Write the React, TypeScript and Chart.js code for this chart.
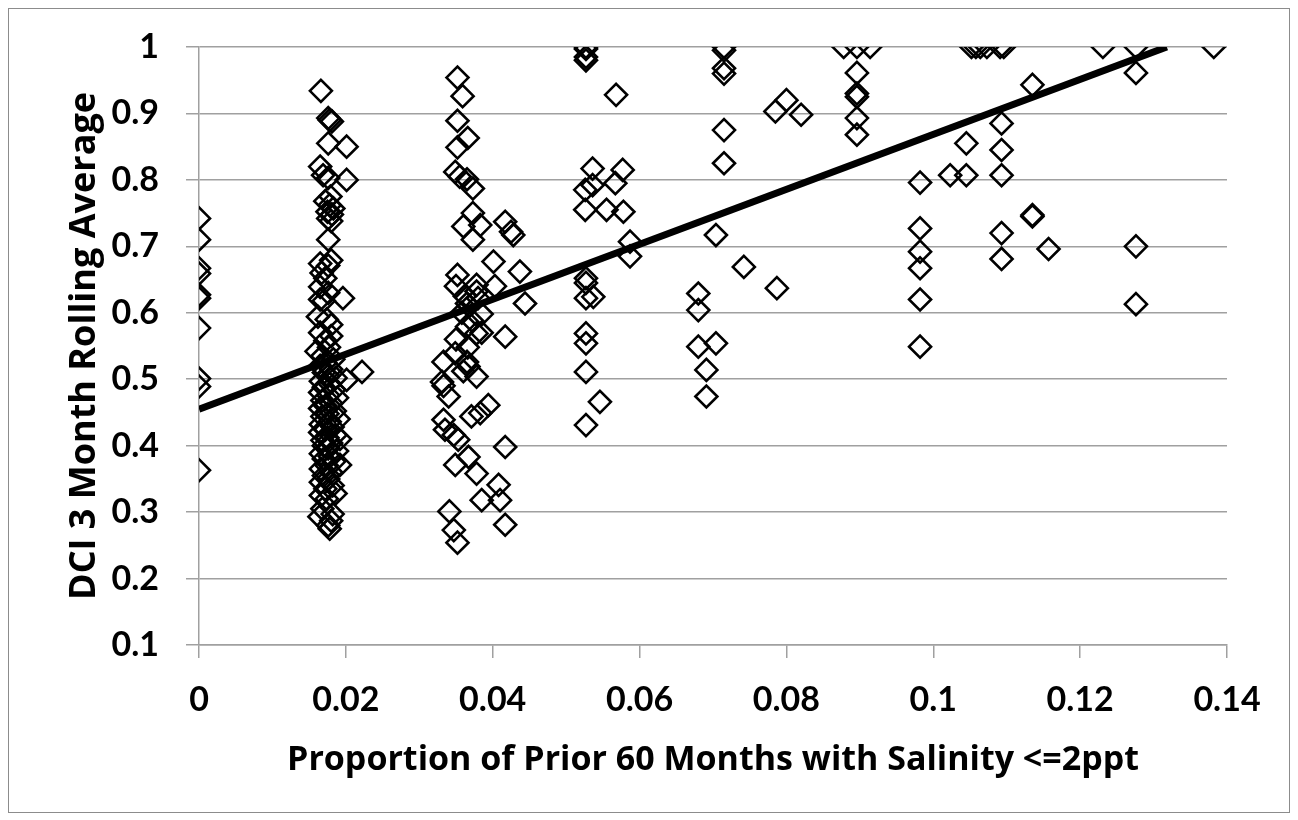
import { useEffect, useRef } from "react";
import { Chart, registerables } from "chart.js";

Chart.register(...registerables);

// x = proportion of prior 60 months with salinity <= 2ppt, y = DCI 3 month rolling average
const clusterZero: [number, number][] = [
  [0, 0.742], [0, 0.71], [0, 0.667], [0, 0.659], [0, 0.627], [0, 0.622],
  [0, 0.577], [0, 0.501], [0, 0.489], [0, 0.363],
];

const clusterTwoPct: [number, number][] = [
  [0.0166, 0.934], [0.0176, 0.893], [0.0178, 0.89], [0.0181, 0.888], [0.0176, 0.855],
  [0.0201, 0.85], [0.0165, 0.82], [0.0169, 0.807], [0.0176, 0.803], [0.0201, 0.8],
  [0.0179, 0.775], [0.0172, 0.768], [0.0178, 0.762], [0.0183, 0.757], [0.0175, 0.752],
  [0.0181, 0.748], [0.0176, 0.742], [0.018, 0.738], [0.0176, 0.71], [0.0165, 0.674],
  [0.0176, 0.671], [0.018, 0.679], [0.0167, 0.66], [0.0172, 0.652], [0.0165, 0.639],
  [0.0176, 0.63], [0.0196, 0.622], [0.0165, 0.62], [0.017, 0.618], [0.0162, 0.594],
  [0.0174, 0.59], [0.018, 0.582], [0.0165, 0.57], [0.018, 0.565], [0.0172, 0.558],
  [0.016, 0.542], [0.0177, 0.548], [0.0222, 0.511], [0.0201, 0.499],
  [0.0168, 0.535], [0.0183, 0.53], [0.0172, 0.525], [0.0165, 0.52], [0.018, 0.515],
  [0.017, 0.51], [0.0176, 0.505], [0.0186, 0.502], [0.0166, 0.497], [0.0178, 0.493],
  [0.017, 0.488], [0.0184, 0.484], [0.0165, 0.48], [0.0176, 0.476], [0.0188, 0.472],
  [0.0168, 0.468], [0.018, 0.464], [0.0172, 0.46], [0.0165, 0.456], [0.0185, 0.452],
  [0.0175, 0.448], [0.0168, 0.444], [0.019, 0.44], [0.0178, 0.436], [0.0166, 0.432],
  [0.0182, 0.428], [0.0172, 0.424], [0.0165, 0.42], [0.0186, 0.416], [0.0175, 0.412],
  [0.0168, 0.408], [0.0192, 0.41], [0.018, 0.404], [0.017, 0.4], [0.0176, 0.396],
  [0.0188, 0.392], [0.0166, 0.388], [0.0178, 0.384], [0.017, 0.38], [0.0184, 0.376],
  [0.0192, 0.371], [0.0174, 0.37], [0.0166, 0.365], [0.018, 0.36], [0.017, 0.355],
  [0.0176, 0.35], [0.0166, 0.345], [0.0182, 0.34], [0.0172, 0.335], [0.0186, 0.328],
  [0.0166, 0.325], [0.0174, 0.32], [0.0168, 0.305], [0.0182, 0.297], [0.0164, 0.293],
  [0.018, 0.287], [0.0176, 0.28], [0.0178, 0.275],
];

const clusterFourPct: [number, number][] = [
  [0.0352, 0.954], [0.0359, 0.926], [0.0352, 0.889], [0.0366, 0.863], [0.0352, 0.849],
  [0.0349, 0.812], [0.0355, 0.805], [0.0365, 0.801], [0.0373, 0.787], [0.0373, 0.75],
  [0.036, 0.73], [0.0383, 0.732], [0.0373, 0.71], [0.0417, 0.737], [0.0428, 0.717],
  [0.0425, 0.722], [0.0401, 0.677], [0.0437, 0.662], [0.0444, 0.614], [0.0352, 0.657],
  [0.0378, 0.642], [0.0378, 0.632], [0.0403, 0.64], [0.035, 0.64], [0.0362, 0.625],
  [0.038, 0.622], [0.0368, 0.61], [0.0365, 0.614], [0.0358, 0.6], [0.0385, 0.598],
  [0.0372, 0.588], [0.0365, 0.579], [0.0385, 0.57], [0.035, 0.56], [0.0378, 0.569],
  [0.0366, 0.548], [0.0417, 0.564], [0.0349, 0.539], [0.0333, 0.526], [0.0365, 0.526],
  [0.0367, 0.519], [0.036, 0.512], [0.0378, 0.504], [0.0331, 0.496], [0.0333, 0.49],
  [0.034, 0.474], [0.0394, 0.461], [0.0371, 0.444], [0.0383, 0.449], [0.0333, 0.439],
  [0.0335, 0.424], [0.0347, 0.416], [0.0353, 0.409], [0.0349, 0.371], [0.0367, 0.383],
  [0.0378, 0.358], [0.0385, 0.318], [0.0408, 0.341], [0.041, 0.318], [0.0417, 0.398],
  [0.0417, 0.281], [0.0341, 0.301], [0.0347, 0.273], [0.0352, 0.254],
];

const clusterSixPct: [number, number][] = [
  [0.0527, 1.0], [0.0527, 0.997], [0.0527, 0.985], [0.0527, 0.98], [0.0568, 0.928],
  [0.0536, 0.817], [0.0526, 0.785], [0.0536, 0.792], [0.0567, 0.795], [0.0577, 0.815],
  [0.0526, 0.755], [0.0555, 0.755], [0.0578, 0.752], [0.0587, 0.707], [0.0587, 0.685],
  [0.0527, 0.652], [0.0527, 0.645], [0.0527, 0.622], [0.0537, 0.624], [0.0527, 0.569],
  [0.0527, 0.554], [0.0527, 0.511], [0.0546, 0.466], [0.0527, 0.431],
];

const clusterSevenPct: [number, number][] = [
  [0.0715, 1.0], [0.0715, 0.995], [0.0715, 0.968], [0.0715, 0.96], [0.0715, 0.875],
  [0.0715, 0.825], [0.0704, 0.717], [0.0742, 0.669], [0.0787, 0.637], [0.068, 0.629],
  [0.068, 0.604], [0.068, 0.549], [0.0704, 0.554], [0.0691, 0.514], [0.0691, 0.474],
  [0.0785, 0.903], [0.08, 0.92], [0.082, 0.898],
];

const clusterNinePct: [number, number][] = [
  [0.0878, 1.0], [0.0896, 1.0], [0.0914, 1.0], [0.0896, 0.961], [0.0896, 0.93],
  [0.0896, 0.925], [0.0896, 0.893], [0.0896, 0.868],
];

const clusterHigh: [number, number][] = [
  [0.1052, 1.0], [0.1058, 1.0], [0.1064, 1.0], [0.1073, 1.0], [0.1091, 1.0], [0.1096, 1.0],
  [0.1231, 1.0], [0.1276, 1.0], [0.1382, 1.0], [0.1276, 0.961], [0.1276, 0.613],
  [0.1276, 0.7], [0.1135, 0.943], [0.1093, 0.885], [0.1093, 0.845], [0.1093, 0.807],
  [0.1045, 0.855], [0.1023, 0.807], [0.1045, 0.807], [0.0982, 0.796], [0.0982, 0.727],
  [0.0982, 0.692], [0.0982, 0.667], [0.0982, 0.62], [0.0982, 0.549], [0.1093, 0.72],
  [0.1093, 0.681], [0.1135, 0.747], [0.1135, 0.745], [0.1157, 0.696],
];

// linear trend line end points
const trendX = [0, 0.1318];
const trendY = [0.455, 1.0];

const xTitle = "Proportion of Prior 60 Months with Salinity <=2ppt";
const yTitle = "DCI 3 Month Rolling Average";

const TICK_FONT = "Lato, 'Open Sans', sans-serif";
const TITLE_FONT = "'Open Sans', Lato, sans-serif";

const fmt = (v: number | string) => String(Number(Number(v).toFixed(4)));

export default function App() {
  const ref = useRef<HTMLCanvasElement>(null);

  useEffect(() => {
    if (!ref.current) return;
    const all = [
      ...clusterZero,
      ...clusterTwoPct,
      ...clusterFourPct,
      ...clusterSixPct,
      ...clusterSevenPct,
      ...clusterNinePct,
      ...clusterHigh,
    ].map(([x, y]) => ({ x, y }));
    const trend = trendX.map((x, i) => ({ x, y: trendY[i] }));

    const chart = new Chart(ref.current, {
      type: "scatter",
      data: {
        datasets: [
          {
            data: all,
            pointStyle: "rectRot",
            pointRadius: 11,
            pointBorderWidth: 2.6,
            pointBorderColor: "#000",
            pointBackgroundColor: "rgba(0,0,0,0)",
            showLine: false,
            order: 2,
          },
          {
            type: "line",
            data: trend,
            borderColor: "#000",
            borderWidth: 7,
            pointRadius: 0,
            showLine: true,
            fill: false,
            order: 1,
          },
        ],
      },
      options: {
        animation: false,
        responsive: false,
        maintainAspectRatio: false,
        layout: { padding: { left: 0, right: 62, top: 38, bottom: 0 } },
        plugins: {
          legend: { display: false },
          tooltip: { enabled: false },
        },
        scales: {
          x: {
            type: "linear",
            min: 0,
            max: 0.14,
            afterFit: (s: any) => {
              s.height = 167;
              s.paddingLeft = 0;
              s.paddingRight = 0;
            },
            ticks: {
              stepSize: 0.02,
              color: "#000",
              padding: 22,
              maxRotation: 0,
              callback: (v: any) => fmt(v),
              font: { family: TICK_FONT, weight: "bold", size: 34 },
            },
            grid: {
              drawOnChartArea: false,
              drawTicks: true,
              tickLength: 13,
              color: "#a0a0a0",
              lineWidth: 1.5,
            },
            border: { display: true, color: "#a0a0a0", width: 1.5 },
            title: {
              display: true,
              text: xTitle,
              color: "#000",
              font: { family: TITLE_FONT, weight: "bold", size: 34 },
              padding: { top: 0, bottom: 31 },
            },
          },
          y: {
            type: "linear",
            min: 0.1,
            max: 1,
            afterFit: (s: any) => {
              s.width = 190;
              s.paddingTop = 0;
              s.paddingBottom = 0;
            },
            ticks: {
              stepSize: 0.1,
              color: "#000",
              padding: 27,
              callback: (v: any) => fmt(v),
              font: { family: TICK_FONT, weight: "bold", size: 34 },
            },
            grid: {
              drawTicks: true,
              tickLength: 13,
              color: "#a0a0a0",
              lineWidth: 1.5,
            },
            border: { display: true, color: "#a0a0a0", width: 1.5 },
            title: {
              display: true,
              text: yTitle,
              color: "#000",
              font: { family: TITLE_FONT, weight: "bold", size: 36 },
              padding: { top: 54, bottom: 0 },
            },
          },
        },
      },
    });
    return () => chart.destroy();
  }, []);

  return (
    <div
      style={{
        width: 1280,
        height: 803,
        border: "1px solid #8c8c8c",
        background: "#fff",
      }}
    >
      <canvas ref={ref} width={1280} height={803} style={{ display: "block" }} />
    </div>
  );
}
